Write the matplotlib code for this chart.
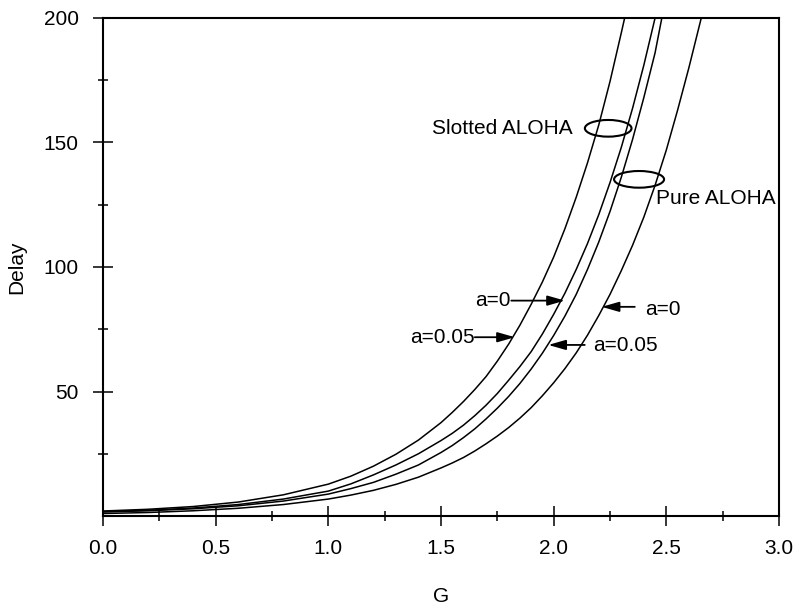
import matplotlib
matplotlib.use("Agg")
import matplotlib.pyplot as plt
from matplotlib.patches import Ellipse
from matplotlib.ticker import MultipleLocator, FormatStrFormatter

plt.rcParams['font.family'] = ['Liberation Sans', 'DejaVu Sans']

# G grid and delay values
G = [0.0, 0.2, 0.4, 0.6, 0.8, 1.0, 1.1, 1.2, 1.3, 1.4, 1.5, 1.55, 1.6, 1.65,
     1.7, 1.75, 1.8, 1.85, 1.9, 1.95, 2.0, 2.05, 2.1, 2.15, 2.2, 2.25, 2.3,
     2.35, 2.4, 2.45, 2.5, 2.55, 2.6]

slotted_a005 = [2.0, 2.7, 3.8, 5.6, 8.5, 12.8, 16.0, 20.0, 24.8, 30.5, 37.5,
                41.6, 46, 50.8, 56, 62.2, 69, 76.6, 85, 94, 104, 115.4, 128,
                141.8, 157, 174.5, 194]
slotted_a0 = [1.8, 2.3, 3.2, 4.6, 6.8, 10.0, 12.9, 16.5, 20.5, 25.0, 30.3,
              33.2, 36.5, 40.3, 44.5, 49.2, 54.5, 60, 66, 73.1, 81, 89.5, 99,
              109.4, 121, 133.9, 148, 163.7, 181]
pure_a005 = [1.6, 2.1, 2.9, 4.1, 6.0, 8.8, 11.0, 13.5, 16.8, 20.5, 25.5,
             28.3, 31.5, 35, 39, 43.3, 48, 53.2, 59, 65.4, 72.5, 80.3, 89,
             99, 110, 122.3, 136, 151.2, 168, 186]
pure_a0 = [1.0, 1.4, 2.1, 3.1, 4.6, 6.8, 8.4, 10.3, 12.7, 15.6, 19.3, 21.3,
           23.5, 26.1, 29, 32.1, 35.5, 39.3, 43.5, 48.3, 53.5, 59.2, 65.5,
           72.6, 80.5, 89, 98.5, 108.7, 120, 132.8, 147, 163, 180]

# where each curve leaves the top of the frame (Delay = 200)
g_top = [2.315, 2.45, 2.48, 2.655]
curves = [slotted_a005, slotted_a0, pure_a005, pure_a0]

fig = plt.figure(figsize=(7.93, 6.06), dpi=100)
ax = fig.add_axes([103/793, 1-516/606, 676/793, 498/606])

for vals, gt in zip(curves, g_top):
    xs = G[:len(vals)] + [gt]
    ys = vals + [200]
    ax.plot(xs, ys, color='black', lw=1.1, solid_joinstyle='round')

ax.set_xlim(0, 3)
ax.set_ylim(0, 200)
ax.xaxis.set_major_locator(MultipleLocator(0.5))
ax.xaxis.set_minor_locator(MultipleLocator(0.25))
ax.xaxis.set_major_formatter(FormatStrFormatter('%.1f'))
ax.set_yticks([50, 100, 150, 200])
ax.set_yticks([25, 75, 125, 175], minor=True)
ax.tick_params(which='major', direction='inout', length=14.4, width=1.1,
               labelsize=15, pad=9.6)
ax.tick_params(axis='y', which='major', pad=10.4)
ax.tick_params(which='minor', direction='inout', length=7.2, width=1.1)
for sp in ax.spines.values():
    sp.set_linewidth(1.5)

fig.text(17/793, 1-267/606, 'Delay', rotation=90, ha='center', va='center', fontsize=15)
fig.text(441/793, 1-596/606, 'G', ha='center', va='center', fontsize=15)

# ellipses grouping the curves
ax.add_patch(Ellipse((2.242, 155.7), 0.207, 6.7, fill=False, lw=1.5, ec='black'))
ax.add_patch(Ellipse((2.379, 135.2), 0.222, 6.7, fill=False, lw=1.5, ec='black'))
ax.text(2.085, 155.8, 'Slotted ALOHA', ha='right', va='center', fontsize=15)
ax.text(2.453, 127.7, 'Pure ALOHA', ha='left', va='center', fontsize=15)

arr = dict(arrowstyle='-|>,head_length=0.7,head_width=0.2', color='black',
           lw=1.3, shrinkA=0, shrinkB=0, mutation_scale=15)
# left side labels
ax.text(1.81, 86.5, 'a=0', ha='right', va='center', fontsize=15)
ax.annotate('', xy=(2.05, 86.5), xytext=(1.812, 86.5), arrowprops=arr)
ax.text(1.648, 71.8, 'a=0.05', ha='right', va='center', fontsize=15)
ax.annotate('', xy=(1.828, 71.8), xytext=(1.65, 71.8), arrowprops=arr)
# right side labels
ax.text(2.405, 83.0, 'a=0', ha='left', va='center', fontsize=15)
ax.annotate('', xy=(2.213, 84.0), xytext=(2.36, 84.0), arrowprops=arr)
ax.text(2.174, 68.3, 'a=0.05', ha='left', va='center', fontsize=15)
ax.annotate('', xy=(1.976, 68.7), xytext=(2.138, 68.7), arrowprops=arr)

fig.savefig('out.png', dpi=100)
